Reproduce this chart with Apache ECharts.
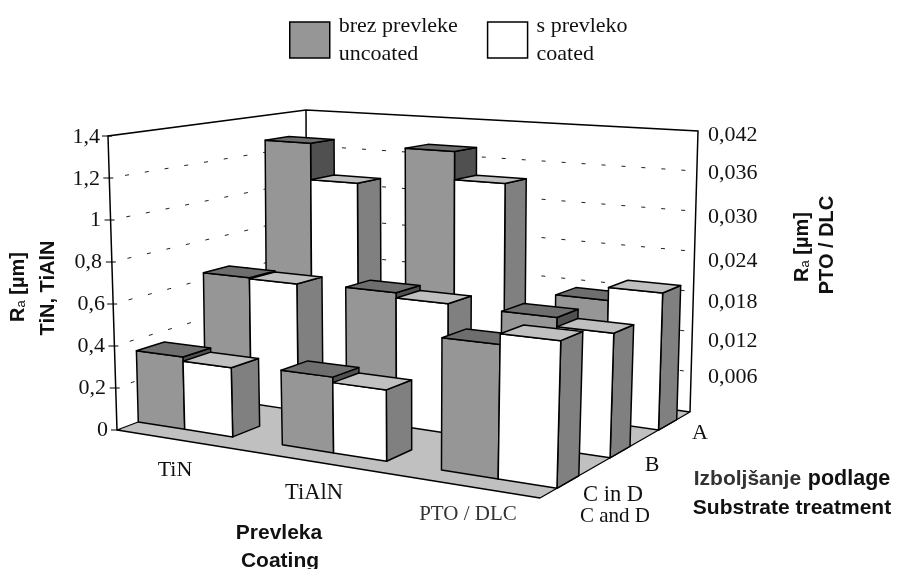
<!DOCTYPE html>
<html><head><meta charset="utf-8">
<style>html,body{margin:0;padding:0;background:#fff}#c{width:900px;height:569px}</style>
<script src="https://cdn.jsdelivr.net/npm/echarts@6/dist/echarts.min.js"></script>
</head><body><div id="c"></div>
<script>
const coatings = ['TiN', 'TiAlN', 'PTO / DLC'];
const treatments = ['A', 'B', 'C in D'];
const treatmentsEn = 'C and D';
const seriesNames = ['brez prevleke\nuncoated', 's prevleko\ncoated'];
const leftTicks = ['0', '0,2', '0,4', '0,6', '0,8', '1', '1,2', '1,4'];
const rightTicks = ['', '0,006', '0,012', '0,018', '0,024', '0,030', '0,036', '0,042'];
// rows A, B, C in D ; Ra in um
const tinUncoated = [1.265, 0.635, 0.345];
const tinCoated = [1.07, 0.63, 0.325];
const tialnUncoated = [1.27, 0.64, 0.345];
const tialnCoated = [1.125, 0.615, 0.32];
const ptoUncoated = [0.0178, 0.0182, 0.0175];
const ptoCoated = [0.0197, 0.0169, 0.0189];

const frontFill = ['#969696', '#ffffff'], topFill = ['#6e6e6e', '#c0c0c0'], sideFill = ['#505050', '#808080'];
const leftNudge = [0, 2, 3, 3, 6, 7, 8, 8];
const rightNudges = [0, 0, 4.3, 5.7, 5, 1.3, -2, 0];

// floor and ceiling corners of the plot box: near-left, near-right, far-right, far-left
const floorQuad = [[117, 430], [540, 498], [690, 412], [307, 358]];
const topQuad = [[108, 136], [548, 164], [698, 131], [306, 110]];
function makeHomography(q) {
  const x0 = q[0][0], y0 = q[0][1], x1 = q[1][0], y1 = q[1][1], x2 = q[2][0], y2 = q[2][1], x3 = q[3][0], y3 = q[3][1];
  const dx1 = x1 - x2, dx2 = x3 - x2, sx = x0 - x1 + x2 - x3, dy1 = y1 - y2, dy2 = y3 - y2, sy = y0 - y1 + y2 - y3;
  const den = dx1 * dy2 - dx2 * dy1;
  const g = (sx * dy2 - dx2 * sy) / den, h = (dx1 * sy - sx * dy1) / den;
  const a = x1 - x0 + g * x1, b = x3 - x0 + h * x3, d = y1 - y0 + g * y1, e = y3 - y0 + h * y3;
  return function (u, v) { const w = g * u + h * v + 1; return [(a * u + b * v + x0) / w, (d * u + e * v + y0) / w]; };
}
const floorH = makeHomography(floorQuad), topH = makeHomography(topQuad);
function P(u, v, t) {
  const w = u - 0.06 * (1 - v) * u * (1 - u);
  const f = floorH(w, v), c = topH(w, v);
  return [f[0] + (c[0] - f[0]) * t, f[1] + (c[1] - f[1]) * t];
}
const pairWidth = 0.25, rowDepth = 1 / 3, barDepth = 0.4 * rowDepth, depthMargin = 0.3 * rowDepth;

function poly(points, fill, lw) {
  return { type: 'polygon', shape: { points: points }, silent: true, style: { fill: fill, stroke: '#000', lineWidth: lw || 1.5, lineJoin: 'round' } };
}
function line(points, style) {
  return { type: 'polyline', shape: { points: points }, silent: true, style: Object.assign({ fill: null, stroke: '#000', lineWidth: 1.5 }, style) };
}
function fracOf(api, value, axisMax) {
  const y0 = api.coord([0, 0])[1], y1 = api.coord([0, axisMax])[1], y = api.coord([0, value])[1];
  return (y0 - y) / (y0 - y1);
}
function renderBar(axisMax) {
  return function (params, api) {
    const coat = api.value(0), value = api.value(1), ser = api.value(2), row = api.value(3);
    const t = fracOf(api, value, axisMax);
    const x0 = api.coord([0, 0])[0], x1 = api.coord([2, 0])[0];
    const centre = pairWidth / 2 + (1 - pairWidth) * (api.coord([coat, 0])[0] - x0) / (x1 - x0);
    const u0 = centre - pairWidth / 2 + ser * pairWidth / 2, u1 = u0 + pairWidth / 2;
    const v0 = (treatments.length - 1 - row) * rowDepth + depthMargin, v1 = v0 + barDepth;
    return { type: 'group', children: [
      poly([P(u1, v0, 0), P(u1, v1, 0), P(u1, v1, t), P(u1, v0, t)], sideFill[ser]),
      poly([P(u0, v0, 0), P(u1, v0, 0), P(u1, v0, t), P(u0, v0, t)], frontFill[ser]),
      poly([P(u0, v0, t), P(u1, v0, t), P(u1, v1, t), P(u0, v1, t)], topFill[ser])
    ] };
  };
}
function renderScene(params, api) {
  const kids = [];
  kids.push(poly([P(0, 0, 0), P(1, 0, 0), P(1, 1, 0), P(0, 1, 0)], '#c0c0c0', 1.3));
  leftTicks.forEach(function (_, i) {
    const t = fracOf(api, i * 0.2, 1.4);
    const a = P(0, 0, t), b = P(0, 1, t), c = P(1, 1, t);
    if (i > 0 && i < 7) {
      kids.push(line([a, b], { stroke: '#222', lineWidth: 1, lineDash: [4, 16], lineDashOffset: 4 }));
      kids.push(line([b, c], { stroke: '#222', lineWidth: 1, lineDash: [4, 16], lineDashOffset: 4 }));
    }
    kids.push(line([[a[0] - 6, a[1]], [a[0] + 4, a[1]]], { lineWidth: 1 }));
  });
  kids.push(line([P(0, 0, 0), P(0, 0, 1), P(0, 1, 1), P(1, 1, 1), P(1, 1, 0)], {}));
  kids.push(line([P(0, 1, 0), P(0, 1, 1)], {}));
  return { type: 'group', children: kids };
}

const leftSeries = [tinUncoated, tinCoated, tialnUncoated, tialnCoated];
const barsLeft = [], barsRight = [];
treatments.forEach(function (_, r) {
  [0, 1].forEach(function (c) { [0, 1].forEach(function (s) { barsLeft.push([c, leftSeries[c * 2 + s][r], s, r]); }); });
  barsRight.push([2, ptoUncoated[r], 0, r], [2, ptoCoated[r], 1, r]);
});

const serif = '"Liberation Serif"', sans = '"Liberation Sans"';
const tickFont = { fontFamily: serif, fontSize: 22, fill: '#111' };
const leftRich = {}, rightRich = {};
leftNudge.forEach(function (n, i) { leftRich['n' + i] = Object.assign({ padding: [0, n, 0, 0] }, tickFont); });
rightNudges.forEach(function (n, i) {
  rightRich['n' + i] = Object.assign({ padding: n >= 0 ? [2 * n, 0, 0, 0] : [0, 0, -2 * n, 0] }, tickFont);
});

function label(text, x, y, size, extra) {
  return { type: 'text', x: x, y: y, silent: true, style: Object.assign({ text: text, fontFamily: serif, fontSize: size, fill: '#111', align: 'center', verticalAlign: 'middle' }, extra || {}) };
}
const bold = { fontFamily: sans, fontWeight: 'bold' };
function rotTitle(text, x, y, rich) {
  return { type: 'text', x: x, y: y, rotation: Math.PI / 2, silent: true, style: { text: text, rich: rich, fontFamily: sans, fontWeight: 'bold', fontSize: 20, fill: '#111', align: 'center', verticalAlign: 'middle' } };
}
const raRich = { m: { fontFamily: sans, fontWeight: 'bold', fontSize: 20, fill: '#111' }, s: { fontFamily: sans, fontSize: 13, fill: '#111', verticalAlign: 'bottom', padding: [6, 0, 0, 0] } };

const chart = echarts.init(document.getElementById('c'), null, { renderer: 'canvas' });
const xCommon = { type: 'category', data: coatings, boundaryGap: false, show: false };
chart.setOption({
  animation: false,
  backgroundColor: '#fff',
  legend: {
    left: 284, top: 7, itemWidth: 40, itemHeight: 36, itemGap: 29, selectedMode: false,
    textStyle: { fontFamily: serif, fontSize: 22, lineHeight: 28, color: '#111', padding: [0, 0, 0, 4] },
    data: [
      { name: seriesNames[0], icon: 'rect', itemStyle: { color: frontFill[0], borderColor: '#000', borderWidth: 1.5 } },
      { name: seriesNames[1], icon: 'rect', itemStyle: { color: frontFill[1], borderColor: '#000', borderWidth: 1.5 } }
    ]
  },
  grid: [
    { left: 108, width: 592, top: 137, height: 293 },
    { left: 108, width: 592, top: 135, height: 283 }
  ],
  xAxis: [Object.assign({ gridIndex: 0 }, xCommon), Object.assign({ gridIndex: 1 }, xCommon)],
  yAxis: [
    { gridIndex: 0, type: 'value', min: 0, max: 1.4, interval: 0.2, position: 'left',
      axisLine: { show: false }, axisTick: { show: false }, splitLine: { show: false },
      axisLabel: { margin: 0, fontFamily: serif, fontSize: 22, color: '#111', rich: leftRich,
        formatter: function (v, i) { return '{n' + i + '|' + leftTicks[i] + '}'; } } },
    { gridIndex: 1, type: 'value', min: 0, max: 0.042, interval: 0.006, position: 'right',
      axisLine: { show: false }, axisTick: { show: false }, splitLine: { show: false },
      axisLabel: { margin: 8, fontFamily: serif, fontSize: 22, color: '#111', rich: rightRich,
        formatter: function (v, i) { return rightTicks[i] ? '{n' + i + '|' + rightTicks[i] + '}' : ''; } } }
  ],
  series: [
    { type: 'custom', name: 'scene', xAxisIndex: 0, yAxisIndex: 0, data: [[0, 0]], renderItem: renderScene, silent: true, z: 1 },
    { type: 'custom', name: 'bars TiN, TiAlN', xAxisIndex: 0, yAxisIndex: 0, data: barsLeft, encode: { x: 0, y: 1 }, renderItem: renderBar(1.4), silent: true, z: 2 },
    { type: 'custom', name: 'bars PTO / DLC', xAxisIndex: 1, yAxisIndex: 1, data: barsRight, encode: { x: 0, y: 1 }, renderItem: renderBar(0.042), silent: true, z: 3 },
    { type: 'bar', name: seriesNames[0], xAxisIndex: 0, yAxisIndex: 0, data: [], itemStyle: { color: frontFill[0] } },
    { type: 'bar', name: seriesNames[1], xAxisIndex: 0, yAxisIndex: 0, data: [], itemStyle: { color: frontFill[1] } }
  ],
  graphic: { elements: [
    label(coatings[0], 175, 470, 22),
    label(coatings[1], 314, 493, 22.5),
    label(coatings[2], 468, 514, 21, { fill: '#333' }),
    label(treatments[0], 700, 433, 22),
    label(treatments[1], 652, 465, 22),
    label(treatments[2], 613, 495, 22.5),
    label(treatmentsEn, 615, 516, 21),
    label('Prevleka', 279, 533, 21, bold),
    label('Coating', 280, 561, 21, bold),
    { type: 'text', x: 792, y: 479, silent: true, style: { text: '{g|Izboljšanje}  {b|podlage}', rich: { g: { fontFamily: sans, fontWeight: 'bold', fontSize: 21, fill: '#333' }, b: { fontFamily: sans, fontWeight: 'bold', fontSize: 21.5, fill: '#111' } }, align: 'center', verticalAlign: 'middle' } },
    label('Substrate treatment', 792, 508, 21, bold),
    { type: 'text', x: 18, y: 287, rotation: Math.PI / 2, silent: true, style: { text: '{m|R}{s|a}{m| [µm]}', rich: raRich, align: 'center', verticalAlign: 'middle' } },
    rotTitle('TiN, TiAlN', 48, 288),
    { type: 'text', x: 802, y: 247, rotation: Math.PI / 2, silent: true, style: { text: '{m|R}{s|a}{m| [µm]}', rich: raRich, align: 'center', verticalAlign: 'middle' } },
    rotTitle('PTO / DLC', 827, 245)
  ] }
});
</script></body></html>
